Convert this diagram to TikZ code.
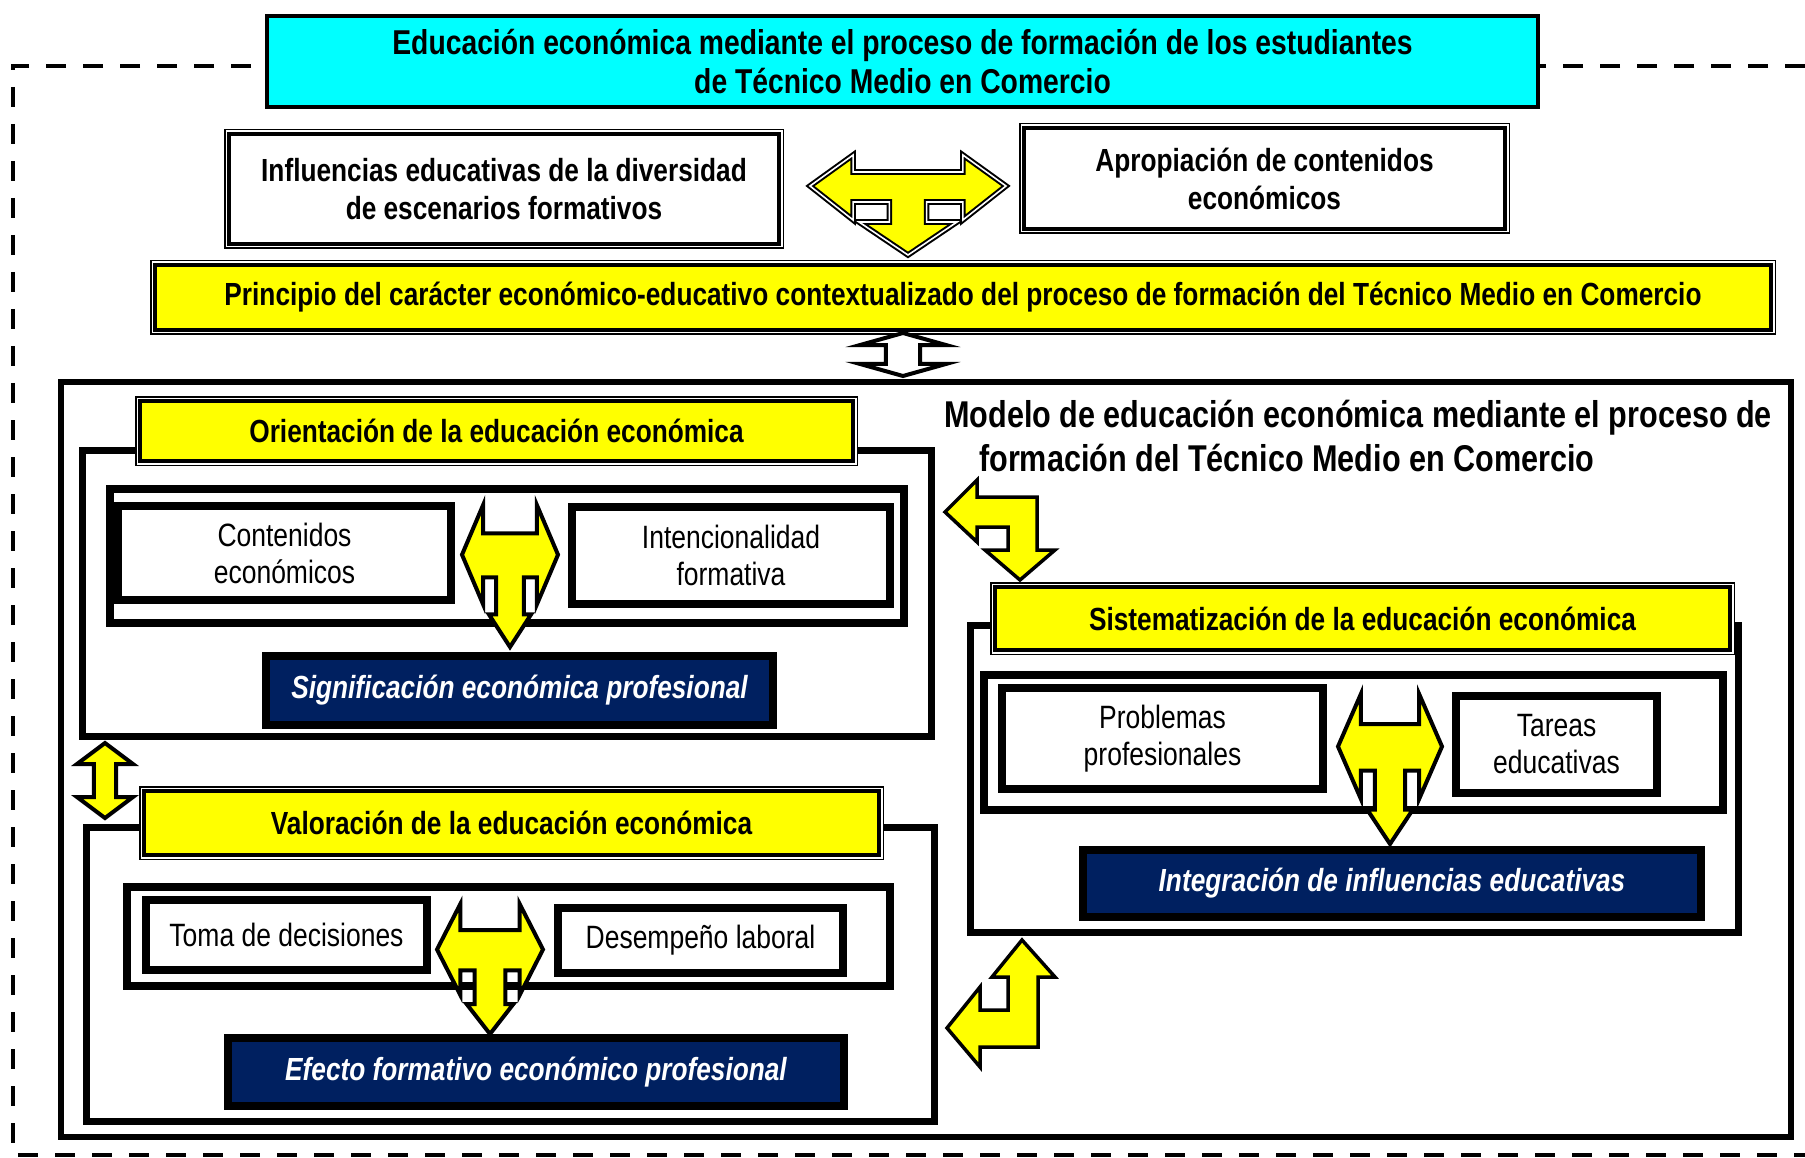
\documentclass[tikz,border=0pt]{standalone}
\usepackage{fontspec}
\setmainfont{Liberation Sans}[FakeStretch=0.82]

\definecolor{titlecyan}{RGB}{0,255,255}
\definecolor{markyellow}{RGB}{255,255,0}
\definecolor{darknavy}{RGB}{0,32,96}

\tikzset{
  % wide block arrow: heads left and right, one head down
  tarrowtop/.pic={
    \path[pic actions] (-1,.31) -- (-.56,0) -- (-.56,.17) -- (.56,.17) -- (.56,0)
      -- (1,.31) -- (.56,.65) -- (.56,.47) -- (.19,.47) -- (.19,.67) -- (.5,.67)
      -- (0,1) -- (-.5,.67) -- (-.19,.67) -- (-.19,.47) -- (-.56,.47) -- (-.56,.65) -- cycle;
  },
  % narrow block arrow of the same kind
  tarrow/.pic={
    \path[pic actions] (-1,.35) -- (-.56,0) -- (-.56,.20) -- (.56,.20) -- (.56,0)
      -- (1,.35) -- (.56,.70) -- (.56,.51) -- (.29,.51) -- (.29,.77) -- (.44,.77)
      -- (0,1) -- (-.44,.77) -- (-.29,.77) -- (-.29,.51) -- (-.56,.51) -- (-.56,.70) -- cycle;
  },
  % block arrow: up and down
  vdarrow/.pic={
    \path[pic actions] (0,0) -- (1,.28) -- (.4,.28) -- (.4,.72) -- (1,.72) -- (0,1)
      -- (-1,.72) -- (-.4,.72) -- (-.4,.28) -- (-1,.28) -- cycle;
  }
}

\begin{document}
\begin{tikzpicture}[x=1pt,y=-1pt,
  every node/.style={align=center,inner sep=0pt},
  dashframe/.style={line width=4.5pt,dash pattern=on 20pt off 17pt},
  titlebox/.style={draw,line width=3.5pt,fill=titlecyan,font=\bfseries\fontsize{34.5}{39}\selectfont},
  dblbox/.style={draw,line width=4pt,fill=#1,font=\bfseries\fontsize{32}{38}\selectfont,
    preaction={draw=black,line width=10pt},
    preaction={draw=white,line width=7pt}},
  dblbox/.default=white,
  modelbox/.style={draw,line width=6pt},
  outerbox/.style={draw,line width=7pt,fill=white},
  innerbox/.style={draw,line width=8pt,fill=white},
  itembox/.style={draw,line width=8pt,fill=white,font=\fontsize{32.3}{37}\selectfont},
  resultbox/.style={draw,line width=8pt,fill=darknavy,text=white,font=\bfseries\itshape\fontsize{32}{36}\selectfont},
  yarrow/.style={draw,fill=markyellow,line width=4pt},
  warrow/.style={draw,fill=white,line width=4pt},
  ydbl/.style={draw,fill=markyellow,line width=2pt,double=white,double distance=1.6pt}
]
\useasboundingbox (0,0) rectangle (1805,1158);

% Outer dashed frame
\draw[dashframe] (1805,66) -- (13,66) -- (13,1155) -- (1805,1155);

% Title
\node[titlebox,minimum width=1271pt,minimum height=91pt] (title) at (902.5,61.5)
  {Educación económica mediante el proceso de formación de los estudiantes\\de Técnico Medio en Comercio};

% Influences and contents
\node[dblbox,minimum width=550pt,minimum height=110pt] (influ) at (504,189)
  {Influencias educativas de la diversidad\\de escenarios formativos};
\node[dblbox,minimum width=481pt,minimum height=101pt] (aprop) at (1264.5,178.5)
  {Apropiación de contenidos\\económicos};
\pic[ydbl,xscale=98,yscale=100] at (908,155) {tarrowtop};

% Principle
\node[dblbox=markyellow,minimum width=1616pt,minimum height=65pt] (princ) at (963,297.5)
  {Principio del carácter económico-educativo contextualizado del proceso de formación del Técnico Medio en Comercio};
\pic[warrow,xscale=43,yscale=43] at (903,333) {vdarrow};

% Model
\node[modelbox,minimum width=1730pt,minimum height=755pt] (model) at (926,759.5) {};
\node[anchor=west,align=left,font=\bfseries\fontsize{37.3}{44}\selectfont] (modeltitle) at (944,436)
  {Modelo de educación económica mediante el proceso de\\\hspace*{35pt}formación del Técnico Medio en Comercio};

% Orientation
\node[outerbox,minimum width=849pt,minimum height=286pt] (orient) at (507,593.5) {};
\node[dblbox=markyellow,minimum width=713pt,minimum height=60pt] (orienthd) at (496.5,431)
  {Orientación de la educación económica};
\node[innerbox,minimum width=794pt,minimum height=134pt] (orientin) at (507,556) {};
\node[itembox,minimum width=333pt,minimum height=94pt] (conten) at (284.5,553) {Contenidos\\económicos};
\node[itembox,minimum width=318pt,minimum height=97pt] (intenc) at (731,555.5) {Intencionalidad\\formativa};
\pic[yarrow,xscale=48,yscale=142] at (510,505) {tarrow};
\node[resultbox,minimum width=507pt,minimum height=69pt] (signif) at (519.5,690.5)
  {Significación económica profesional};

% Valuation
\node[outerbox,minimum width=848pt,minimum height=294pt] (valor) at (510.5,974.5) {};
\node[dblbox=markyellow,minimum width=735pt,minimum height=64pt] (valorhd) at (511.5,823)
  {Valoración de la educación económica};
\node[innerbox,minimum width=763pt,minimum height=99pt] (valorin) at (508.5,936.5) {};
\node[itembox,minimum width=281pt,minimum height=70pt] (toma) at (286.5,935) {Toma de decisiones};
\node[itembox,minimum width=285pt,minimum height=65pt] (desemp) at (700.5,940.5) {Desempeño laboral};
\pic[yarrow,xscale=53,yscale=130] at (490,904) {tarrow};
\node[resultbox,minimum width=616pt,minimum height=68pt] (efecto) at (536,1072)
  {Efecto formativo económico profesional};

% Systematization
\node[outerbox,minimum width=768pt,minimum height=307pt] (sistem) at (1354.5,779) {};
\node[dblbox=markyellow,minimum width=735pt,minimum height=63pt] (sistemhd) at (1362.5,618.5)
  {Sistematización de la educación económica};
\node[innerbox,minimum width=739pt,minimum height=135pt] (sistemin) at (1353.5,742.5) {};
\node[itembox,minimum width=321pt,minimum height=101pt] (proble) at (1162.5,738.5) {Problemas\\profesionales};
\node[itembox,minimum width=201pt,minimum height=97pt] (tareas) at (1556.5,744.5) {Tareas\\educativas};
\pic[yarrow,xscale=52,yscale=150] at (1390,694) {tarrow};
\node[resultbox,minimum width=618pt,minimum height=67pt] (integr) at (1392,883.5)
  {Integración de influencias educativas};

% Links between the dimensions
\draw[yarrow,line width=3.5pt] (945,512) -- (977,480) -- (977,497) -- (1037,497) -- (1037,550)
  -- (1055,550) -- (1020,580) -- (985,550) -- (1008,550) -- (1008,527) -- (977,527) -- (977,542) -- cycle;
\draw[yarrow,line width=3.5pt] (1022,940) -- (1055,977) -- (1038,977) -- (1038,1047) -- (980,1047)
  -- (980,1067) -- (947,1028) -- (980,987) -- (980,1010) -- (1008,1010) -- (1008,977) -- (992,977) -- cycle;
\pic[yarrow,xscale=28,yscale=75] at (105,743) {vdarrow};

\end{tikzpicture}
\end{document}
